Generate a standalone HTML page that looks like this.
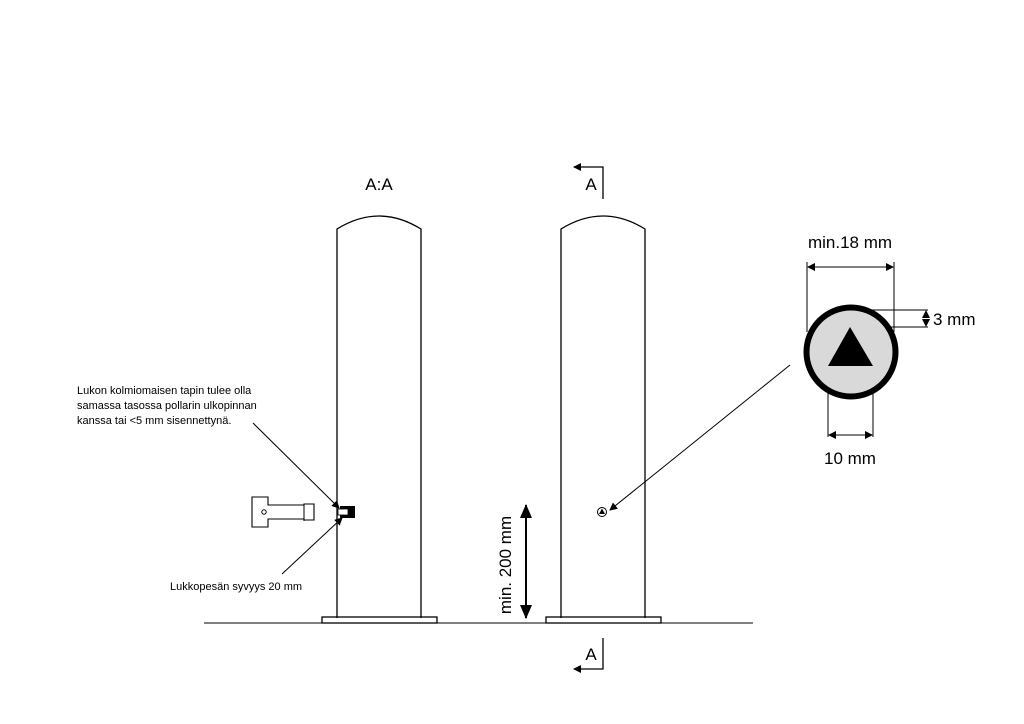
<!DOCTYPE html>
<html><head><meta charset="utf-8"><style>
html,body{margin:0;padding:0;background:#fff;}
svg{display:block;font-family:"Liberation Sans",sans-serif;}
</style></head><body>
<svg width="1024" height="724" viewBox="0 0 1024 724" xmlns="http://www.w3.org/2000/svg">
<defs>
<marker id="ah" markerWidth="8" markerHeight="8" refX="7" refY="4" orient="auto" markerUnits="userSpaceOnUse"><path d="M0,0 L8,4 L0,8 z" fill="#000"/></marker>
<marker id="ahb" markerWidth="14" markerHeight="12" refX="13" refY="6" orient="auto" markerUnits="userSpaceOnUse"><path d="M0,0 L14,6 L0,12 z" fill="#000"/></marker>
</defs>
<g fill="none" stroke="#000" stroke-width="1.3">
<line x1="204" y1="623" x2="753" y2="623" stroke-width="1"/>
<path d="M337,618 V229 Q379,203 421,229 V618"/>
<rect x="322" y="617" width="115" height="6"/>
<path d="M561,618 V229 Q603,203 645,229 V618"/>
<rect x="546" y="617" width="115" height="6"/>
<polyline points="603,199 603,167 574,167" marker-end="url(#ah)"/>
<polyline points="603,638 603,669 574,669" marker-end="url(#ah)"/>
<path d="M252,497 h16 v8 h36 v-1 h10 v16 h-10 v-1 h-36 v8 h-16 z" stroke-width="1.1"/>
<line x1="304" y1="504" x2="304" y2="521" stroke-width="1"/>
<circle cx="264" cy="512" r="2.2" stroke-width="1"/>
<line x1="253" y1="423" x2="339" y2="508" stroke-width="1" marker-end="url(#ah)"/>
<line x1="282" y1="574" x2="342" y2="518" stroke-width="1" marker-end="url(#ah)"/>
<line x1="790" y1="365" x2="610" y2="510" stroke-width="1" marker-end="url(#ah)"/>
<circle cx="602" cy="512" r="4.5" stroke-width="1"/>
<line x1="526" y1="525" x2="526" y2="505" stroke-width="2" marker-end="url(#ahb)"/>
<line x1="526" y1="505" x2="526" y2="618" stroke-width="2" marker-end="url(#ahb)"/>
<line x1="807" y1="262" x2="807" y2="332" stroke-width="1"/>
<line x1="894" y1="262" x2="894" y2="332" stroke-width="1"/>
<line x1="808" y1="267" x2="893" y2="267" stroke-width="1" marker-end="url(#ah)"/>
<line x1="893" y1="267" x2="808" y2="267" stroke-width="1" marker-end="url(#ah)"/>
<line x1="850" y1="310" x2="928" y2="310" stroke-width="1"/>
<line x1="850" y1="327" x2="928" y2="327" stroke-width="1"/>
<line x1="926" y1="318" x2="926" y2="311" stroke-width="1" marker-end="url(#ah)"/>
<line x1="926" y1="319" x2="926" y2="326" stroke-width="1" marker-end="url(#ah)"/>
<line x1="828" y1="366" x2="828" y2="437" stroke-width="1"/>
<line x1="873" y1="366" x2="873" y2="437" stroke-width="1"/>
<line x1="829" y1="435" x2="872" y2="435" stroke-width="1" marker-end="url(#ah)"/>
<line x1="872" y1="435" x2="829" y2="435" stroke-width="1" marker-end="url(#ah)"/>
</g>
<rect x="340" y="506" width="15" height="12" fill="#000"/>
<rect x="338" y="509" width="10" height="6" fill="#fff" stroke="#000" stroke-width="0.8"/>
<polygon points="602,508.5 605,514 599,514" fill="#000"/>
<circle cx="851" cy="352" r="44.5" fill="#d9d9d9" stroke="#000" stroke-width="6"/>
<polygon points="850,327 873,366 828,366" fill="#000"/>
<g fill="#000">
<text x="379" y="190" font-size="17" text-anchor="middle">A:A</text>
<text x="591" y="190" font-size="17" text-anchor="middle">A</text>
<text x="591" y="660" font-size="17" text-anchor="middle">A</text>
<text x="850" y="248" font-size="17" text-anchor="middle">min.18 mm</text>
<text x="933" y="325" font-size="17">3 mm</text>
<text x="850" y="464" font-size="17" text-anchor="middle">10 mm</text>
<text x="77" y="394" font-size="11">Lukon kolmiomaisen tapin tulee olla</text>
<text x="77" y="409" font-size="11">samassa tasossa pollarin ulkopinnan</text>
<text x="77" y="424" font-size="11">kanssa tai &lt;5 mm sisennettynä.</text>
<text x="170" y="590" font-size="11">Lukkopesän syvyys 20 mm</text>
<text transform="translate(511,565) rotate(-90)" font-size="17" text-anchor="middle">min. 200 mm</text>
</g>
</svg>
</body></html>
